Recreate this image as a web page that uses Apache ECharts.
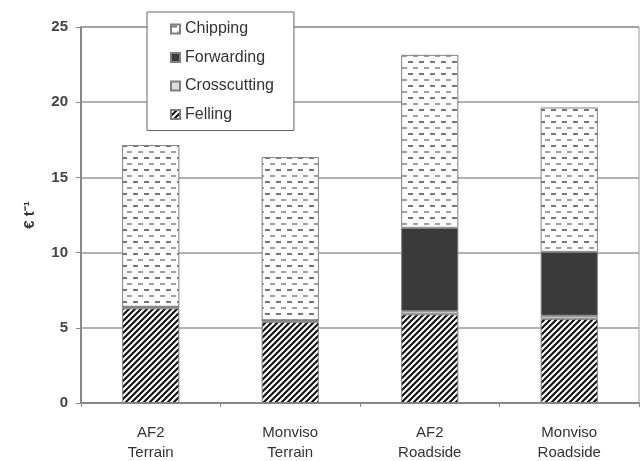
<!DOCTYPE html>
<html>
<head>
<meta charset="utf-8">
<script src="https://cdn.jsdelivr.net/npm/echarts@6/dist/echarts.min.js"></script>
<style>
html,body{margin:0;padding:0;background:#fff;}
#c{width:640px;height:461px;}
</style>
</head>
<body>
<div id="c"></div>
<script>
var categories = ['AF2\nTerrain', 'Monviso\nTerrain', 'AF2\nRoadside', 'Monviso\nRoadside'];
var felling = [6.3, 5.4, 5.9, 5.6];
var crosscutting = [0.1, 0.1, 0.2, 0.2];
var forwarding = [0, 0, 5.55, 4.25];
var chipping = [10.75, 10.85, 11.5, 9.6];
var yTicks = [0, 5, 10, 15, 20, 25];

function stripePattern() {
  var s = 6, c = document.createElement('canvas');
  c.width = s; c.height = s;
  var g = c.getContext('2d');
  g.fillStyle = '#fff'; g.fillRect(0, 0, s, s);
  g.strokeStyle = '#111'; g.lineWidth = 2.1;
  g.beginPath();
  g.moveTo(0, s); g.lineTo(s, 0);
  g.moveTo(-1, 1); g.lineTo(1, -1);
  g.moveTo(s - 1, s + 1); g.lineTo(s + 1, s - 1);
  g.stroke();
  return {image: c, repeat: 'repeat'};
}
function dashPattern() {
  var w = 11, h = 12, c = document.createElement('canvas');
  c.width = w; c.height = h;
  var g = c.getContext('2d');
  g.fillStyle = '#fff'; g.fillRect(0, 0, w, h);
  g.fillStyle = '#777'; g.fillRect(1, 1, 5, 2);
  g.fillStyle = '#a0a0a0'; g.fillRect(6, 7, 5, 2);
  return {image: c, repeat: 'repeat'};
}

var chart = echarts.init(document.getElementById('c'), null, {renderer: 'canvas'});
var border = {borderColor: '#808080', borderWidth: 1};
var font = 'Liberation Sans, Arial';
chart.setOption({
  animation: false,
  backgroundColor: '#fff',
  grid: {left: 81, right: 1, top: 27, bottom: 58, containLabel: false, outerBoundsMode: 'none',
         show: true, borderColor: '#999', borderWidth: 1, backgroundColor: 'transparent'},
  legend: {
    orient: 'vertical', left: 147, top: 12,
    padding: [9, 20, 8, 23], itemGap: 12.5,
    itemWidth: 9, itemHeight: 9, icon: 'rect',
    backgroundColor: '#fff', borderColor: '#666', borderWidth: 1,
    textStyle: {fontFamily: font, fontSize: 16, color: '#333'},
    data: ['Chipping', 'Forwarding', 'Crosscutting', 'Felling']
  },
  xAxis: {
    type: 'category', data: categories,
    axisLine: {lineStyle: {color: '#888', width: 2}},
    axisTick: {show: true, length: 4, lineStyle: {color: '#888'}},
    axisLabel: {fontFamily: font, fontSize: 15, color: '#333', lineHeight: 20, margin: 20}
  },
  yAxis: {
    type: 'value', min: yTicks[0], max: yTicks[yTicks.length - 1], interval: 5,
    name: '€ t⁻¹', nameLocation: 'middle', nameRotate: 90, nameGap: 44,
    nameTextStyle: {fontFamily: font, fontSize: 15, fontWeight: 'bold', color: '#333'},
    axisLine: {show: true, lineStyle: {color: '#888', width: 2}},
    axisTick: {show: true, length: 5, lineStyle: {color: '#888'}},
    axisLabel: {fontFamily: font, fontSize: 15, fontWeight: 'bold', color: '#444', margin: 13},
    splitLine: {lineStyle: {color: '#999', width: 1.5}}
  },
  series: [
    {name: 'Felling', type: 'bar', stack: 's', barWidth: '41%', data: felling,
     itemStyle: Object.assign({color: stripePattern()}, border)},
    {name: 'Crosscutting', type: 'bar', stack: 's', data: crosscutting,
     itemStyle: Object.assign({color: '#dcdcdc'}, border)},
    {name: 'Forwarding', type: 'bar', stack: 's', data: forwarding,
     itemStyle: Object.assign({color: '#3a3a3a'}, border)},
    {name: 'Chipping', type: 'bar', stack: 's', data: chipping,
     itemStyle: Object.assign({color: dashPattern()}, border)}
  ]
});
</script>
</body>
</html>
